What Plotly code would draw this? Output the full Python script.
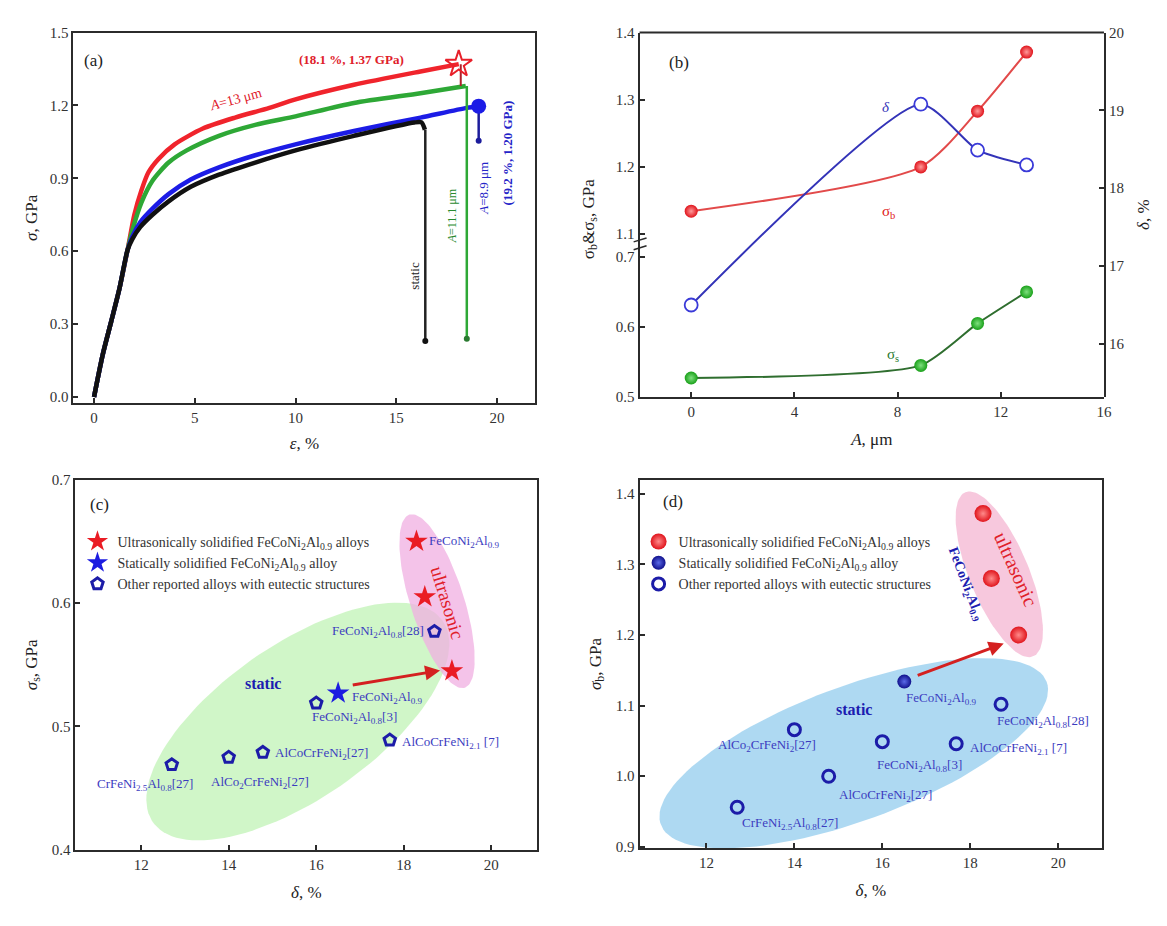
import numpy as np
import plotly.graph_objects as go

FONT = "Liberation Serif"
W, H = 1167, 926

# ---------------- Panel (a): stress-strain curves ----------------
eps_elastic = [0.0, 0.43, 0.84, 1.25, 1.66]
sig_elastic = [0.0, 0.174, 0.307, 0.442, 0.604]
eps_red = [2.0, 2.35, 2.7, 3.2, 4.0, 5.4, 7.0, 8.7, 10.0, 12.9, 16.2, 18.1]
sig_red = [0.75, 0.85, 0.925, 0.98, 1.04, 1.105, 1.15, 1.19, 1.225, 1.285, 1.34, 1.37]
eps_green = [1.95, 2.35, 2.9, 3.7, 4.6, 6.2, 8.0, 10.0, 12.9, 16.2, 18.45]
sig_green = [0.70, 0.80, 0.89, 0.965, 1.015, 1.075, 1.12, 1.155, 1.21, 1.25, 1.28]
eps_blue = [1.9, 2.3, 2.9, 3.7, 4.8, 6.2, 8.0, 10.0, 12.9, 16.2, 18.5, 19.09]
sig_blue = [0.66, 0.72, 0.775, 0.835, 0.895, 0.945, 0.995, 1.04, 1.095, 1.15, 1.19, 1.197]
eps_static = [1.9, 2.3, 2.9, 3.7, 4.8, 6.2, 8.0, 10.0, 12.9, 15.9, 16.25, 16.42]
sig_static = [0.65, 0.70, 0.75, 0.805, 0.865, 0.915, 0.965, 1.015, 1.075, 1.13, 1.13, 1.10]
drop_red_eps, drop_red_sig = [18.2, 18.2], [1.37, 1.28]
drop_green_eps, drop_green_sig = [18.5, 18.5], [1.28, 0.24]
drop_blue_eps, drop_blue_sig = [19.09, 19.09], [1.197, 1.055]
drop_static_eps, drop_static_sig = [16.44, 16.44], [1.10, 0.23]

# ---------------- Panel (b): properties vs spacing ----------------
A_um = [0, 8.9, 11.1, 13]
sigma_b = [1.134, 1.20, 1.283, 1.371]
sigma_s = [0.527, 0.545, 0.605, 0.65]
delta = [16.5, 19.08, 18.49, 18.3]

# ---------------- Panels (c),(d): comparison ----------------
delta_us = [18.29, 18.48, 19.1]
sigma_s_us = [0.65, 0.605, 0.545]
sigma_b_us = [1.372, 1.28, 1.20]
delta_st = [16.5]
sigma_s_st = [0.527]
sigma_b_st = [1.134]
other_names = ["FeCoNi<sub>2</sub>Al<sub>0.8</sub>[28]", "FeCoNi<sub>2</sub>Al<sub>0.8</sub>[3]",
               "AlCoCrFeNi<sub>2.1</sub> [7]", "AlCoCrFeNi<sub>2</sub>[27]",
               "AlCo<sub>2</sub>CrFeNi<sub>2</sub>[27]", "CrFeNi<sub>2.5</sub>Al<sub>0.8</sub>[27]"]
other_delta = [18.7, 16.0, 17.68, 14.78, 14.0, 12.7]
other_sigma_s = [0.577, 0.519, 0.489, 0.479, 0.475, 0.469]
other_sigma_b = [1.102, 1.049, 1.046, 1.0, 1.066, 0.956]
alloy_name = "FeCoNi<sub>2</sub>Al<sub>0.9</sub>"

# label placement styles (anchor, xshift, yshift) in pixels
lab_c = [("right", -8, 0), ("center", 38, -14), ("left", 10, -2), ("left", 10, -1), ("center", 31, -25), ("center", -27, -20)]
lab_d = [("left", -6, -17), ("center", 37, -24), ("left", 12, -5), ("left", 8, -19), ("center", -27, -16), ("left", 3, -16)]

# ---------------- layout geometry ----------------
def px(x0, x1):
    return [x0 / W, x1 / W]

def py(ytop, ybot):
    return [1 - ybot / H, 1 - ytop / H]

dom_a = (px(74, 539), py(25, 402))
dom_b = (px(644, 1111.6), py(25, 395.7))
y_break = 1 - 243 / H
dom_c = (px(76, 541), py(480, 856.7))
dom_d = (px(644, 1109.8), py(480, 855))

AXC = "#2b2b2b"
LBL = "#3b3bbf"
LFS = 13


def ax(**kw):
    d = dict(showline=True, linecolor=AXC, linewidth=2, ticks="inside", ticklen=5, tickwidth=2,
             tickcolor=AXC, showgrid=False, zeroline=False,
             tickfont=dict(family=FONT, size=15, color="#333"),
             title_font=dict(family=FONT, size=17, color="#222"))
    d.update(kw)
    return d


fig = go.Figure()

# ---- (a) traces
curve_sets = [
    (eps_red, sig_red, "#f0242c"),
    (eps_green, sig_green, "#2ea836"),
    (eps_blue, sig_blue, "#1c1ce6"),
    (eps_static, sig_static, "#111111"),
]
for ex, sy, col in curve_sets:
    fig.add_trace(go.Scatter(x=eps_elastic + ex, y=sig_elastic + sy, mode="lines",
                             line=dict(color=col, width=4.5, shape="spline", smoothing=0.7),
                             xaxis="x", yaxis="y", showlegend=False, hoverinfo="skip"))
for ex, sy, col, w in [(drop_red_eps, drop_red_sig, "#b0202a", 2),
                       (drop_green_eps, drop_green_sig, "#2ea836", 2.5),
                       (drop_blue_eps, drop_blue_sig, "#1c1c9c", 2.5),
                       (drop_static_eps, drop_static_sig, "#222222", 2.5)]:
    fig.add_trace(go.Scatter(x=ex, y=sy, mode="lines", line=dict(color=col, width=w),
                             xaxis="x", yaxis="y", showlegend=False, hoverinfo="skip"))
fig.add_trace(go.Scatter(x=[eps_red[-1]], y=[sig_red[-1]], mode="markers",
                         marker=dict(symbol="star-open", size=20, color="#e8202a", line=dict(width=2)),
                         xaxis="x", yaxis="y", showlegend=False, hoverinfo="skip"))
fig.add_trace(go.Scatter(x=[eps_blue[-1]], y=[sig_blue[-1]], mode="markers",
                         marker=dict(symbol="circle", size=15, color="#1c1ce6"),
                         xaxis="x", yaxis="y", showlegend=False, hoverinfo="skip"))
fig.add_trace(go.Scatter(x=[drop_green_eps[1], drop_static_eps[1], drop_blue_eps[1]],
                         y=[drop_green_sig[1], drop_static_sig[1], drop_blue_sig[1]], mode="markers",
                         marker=dict(size=6, color=["#2a7a30", "#111", "#1c1c9c"]),
                         xaxis="x", yaxis="y", showlegend=False, hoverinfo="skip"))

# ---- (b) traces
fig.add_trace(go.Scatter(x=A_um, y=sigma_s, mode="lines+markers",
                         line=dict(color="#2f6e2f", width=2, shape="spline", smoothing=0.6),
                         marker=dict(size=13, color="#19a019", gradient=dict(type="radial", color="#7fe07f")),
                         xaxis="x2", yaxis="y2", showlegend=False, hoverinfo="skip"))
fig.add_trace(go.Scatter(x=A_um, y=sigma_b, mode="lines+markers",
                         line=dict(color="#e24a4a", width=2, shape="spline", smoothing=0.7),
                         marker=dict(size=13, color="#e0141c", gradient=dict(type="radial", color="#ff9a9a")),
                         xaxis="x2", yaxis="y3", showlegend=False, hoverinfo="skip"))
fig.add_trace(go.Scatter(x=A_um, y=delta, mode="lines+markers",
                         line=dict(color="#3434b8", width=2, shape="spline", smoothing=0.6),
                         marker=dict(size=13, color="white", line=dict(color="#3a3ad8", width=1.8)),
                         xaxis="x2", yaxis="y4", showlegend=False, hoverinfo="skip"))


# ---- ellipses (decorative regions), defined in pixel extents
def ellipse(cx, cy, a, b, ang, sx, sy, n=120):
    t = np.linspace(0, 2 * np.pi, n)
    th = np.deg2rad(ang)
    dx = a * np.cos(t) * np.cos(th) - b * np.sin(t) * np.sin(th)
    dy = a * np.cos(t) * np.sin(th) + b * np.sin(t) * np.cos(th)
    return cx + dx / sx, cy + dy / sy


for (cx, cy, a, b, ang, sx, sy, col, xa, ya) in [
    (15.58, 0.504, 178, 78, 35, 44.06, 1250, "rgba(200,245,190,0.85)", "x3", "y5"),
    (18.76, 0.6016, 92, 27, 107.6, 44.06, 1250, "rgba(240,175,225,0.75)", "x3", "y5"),
    (15.35, 1.0325, 207, 68, 20.5, 44.2, 716, "rgba(160,210,240,0.85)", "x4", "y6"),
    (18.66, 1.286, 90, 30, 112.2, 44.2, 716, "rgba(246,190,215,0.85)", "x4", "y6"),
]:
    ex_, ey_ = ellipse(cx, cy, a, b, ang, sx, sy)
    fig.add_trace(go.Scatter(x=ex_, y=ey_, mode="lines", fill="toself", fillcolor=col,
                             line=dict(width=0), xaxis=xa, yaxis=ya, showlegend=False, hoverinfo="skip"))

# ---- (c) markers
fig.add_trace(go.Scatter(x=delta_us, y=sigma_s_us, mode="markers", name="Ultrasonically solidified " + alloy_name + " alloys",
                         marker=dict(symbol="star", size=17, color="#ea1c24"),
                         xaxis="x3", yaxis="y5", legend="legend", hoverinfo="skip"))
fig.add_trace(go.Scatter(x=delta_st, y=sigma_s_st, mode="markers", name="Statically solidified " + alloy_name + " alloy",
                         marker=dict(symbol="star", size=17, color="#1c1ce0"),
                         xaxis="x3", yaxis="y5", legend="legend", hoverinfo="skip"))
fig.add_trace(go.Scatter(x=other_delta, y=other_sigma_s, mode="markers", name="Other reported alloys with eutectic structures",
                         marker=dict(symbol="pentagon-open", size=12, color="#1c1ca8", line=dict(width=3)),
                         xaxis="x3", yaxis="y5", legend="legend", hoverinfo="skip"))

# ---- (d) markers
fig.add_trace(go.Scatter(x=delta_us, y=sigma_b_us, mode="markers", name="Ultrasonically solidified " + alloy_name + " alloys",
                         marker=dict(symbol="circle", size=17, color="#e0141c", gradient=dict(type="radial", color="#ff8a8a")),
                         xaxis="x4", yaxis="y6", legend="legend2", hoverinfo="skip"))
fig.add_trace(go.Scatter(x=delta_st, y=sigma_b_st, mode="markers", name="Statically solidified " + alloy_name + " alloy",
                         marker=dict(symbol="circle", size=14, color="#10108c", gradient=dict(type="radial", color="#5a6ae8")),
                         xaxis="x4", yaxis="y6", legend="legend2", hoverinfo="skip"))
fig.add_trace(go.Scatter(x=other_delta, y=other_sigma_b, mode="markers", name="Other reported alloys with eutectic structures",
                         marker=dict(symbol="circle-open", size=12, color="#1c1ca8", line=dict(width=3)),
                         xaxis="x4", yaxis="y6", legend="legend2", hoverinfo="skip"))

# ---------------- annotations ----------------
ann = []


def T(text, x, y, xref, yref, size=12, color="#222", angle=0, xanchor="center", yanchor="middle",
      xshift=0, yshift=0, bold=False):
    if bold:
        text = "<b>" + text + "</b>"
    ann.append(dict(text=text, x=x, y=y, xref=xref, yref=yref, showarrow=False, textangle=angle,
                    xanchor=xanchor, yanchor=yanchor, xshift=xshift, yshift=yshift,
                    font=dict(family=FONT, size=size, color=color)))


# (a)
T("(a)", -0.62, 1.387, "x", "y", size=17, xanchor="left")
T("(18.1 %, 1.37 GPa)", 12.79, 1.391, "x", "y", size=13, color="#e0202a", bold=True)
T("<i>A</i>=13 μm", 7.0, 1.225, "x", "y", size=14, color="#e0202a", angle=-15)
T("(19.2 %, 1.20 GPa)", 20.5, 1.003, "x", "y", size=13, color="#2424c8", angle=-90, bold=True)
T("<i>A</i>=8.9 μm", 19.35, 0.861, "x", "y", size=13, color="#2424c8", angle=-90)
T("<i>A</i>=11.1 μm", 17.77, 0.744, "x", "y", size=12, color="#2a8a30", angle=-90)
T("static", 15.9, 0.501, "x", "y", size=13, color="#222", angle=-90)
# (b)
T("(b)", -0.92, 19.62, "x2", "y4", size=17, xanchor="left")
T("<i>δ</i>", 7.55, 19.05, "x2", "y4", size=15, color="#3434b8")
T("σ<sub>b</sub>", 7.64, 17.70, "x2", "y4", size=15, color="#e02020")
T("σ<sub>s</sub>", 7.84, 15.86, "x2", "y4", size=15, color="#2a7a30")
T("σ<sub>b</sub>&σ<sub>s</sub>, GPa", 594 / W, 1 - 215 / H, "paper", "paper", size=17, angle=-90)
# (c)
T("(c)", 11.05, 0.68, "x3", "y5", size=17)
T("static", 14.79, 0.5352, "x3", "y5", size=16, color="#1c1cb0", bold=True)
T("ultrasonic", 19.01, 0.60, "x3", "y5", size=19, color="#e0202a", angle=73)
T(alloy_name, delta_us[0], sigma_s_us[0], "x3", "y5", size=LFS, color=LBL, xanchor="left", xshift=11)
T(alloy_name, delta_st[0], sigma_s_st[0], "x3", "y5", size=LFS, color=LBL, xanchor="left", xshift=12, yshift=-4)
for nm, xx, yy, (anc, xs, ys) in zip(other_names, other_delta, other_sigma_s, lab_c):
    T(nm, xx, yy, "x3", "y5", size=LFS, color=LBL, xanchor=anc, xshift=xs, yshift=ys)
# (d)
T("(d)", 11.24, 1.389, "x4", "y6", size=17)
T("static", 15.35, 1.095, "x4", "y6", size=16, color="#1c1cb0", bold=True)
T("ultrasonic", 19.04, 1.294, "x4", "y6", size=20, color="#e0202a", angle=66)
T(alloy_name, 17.9, 1.272, "x4", "y6", size=14, color="#1c1cb0", angle=69, bold=True)
T(alloy_name, delta_st[0], sigma_b_st[0], "x4", "y6", size=LFS, color=LBL, xanchor="left", xshift=0, yshift=-17)
for nm, xx, yy, (anc, xs, ys) in zip(other_names, other_delta, other_sigma_b, lab_d):
    T(nm, xx, yy, "x4", "y6", size=LFS, color=LBL, xanchor=anc, xshift=xs, yshift=ys)

# arrows
ann.append(dict(x=18.83, y=0.5454, ax=16.8, ay=0.5334, xref="x3", yref="y5", axref="x3", ayref="y5",
                showarrow=True, arrowhead=2, arrowsize=1, arrowwidth=3, arrowcolor="#d42020", text=""))
ann.append(dict(x=18.76, y=1.188, ax=16.77, ay=1.142, xref="x4", yref="y6", axref="x4", ayref="y6",
                showarrow=True, arrowhead=2, arrowsize=1, arrowwidth=3, arrowcolor="#d42020", text=""))

# shapes: top frame of (b) and axis-break marks
shapes = [
    dict(type="line", xref="paper", yref="paper", x0=dom_b[0][0], x1=dom_b[0][1], y0=dom_b[1][1], y1=dom_b[1][1],
         line=dict(color=AXC, width=2)),
]
for yy in (236, 244):
    shapes.append(dict(type="line", xref="paper", yref="paper", x0=638 / W, x1=651 / W,
                       y0=1 - (yy + 2) / H, y1=1 - (yy - 2) / H, line=dict(color=AXC, width=1.5)))

leg_font = dict(family=FONT, size=14, color="#333")
fig.update_layout(
    width=W, height=H, margin=dict(l=0, r=0, t=0, b=0),
    paper_bgcolor="white", plot_bgcolor="rgba(0,0,0,0)",
    font=dict(family=FONT, size=13, color="#222"),
    annotations=ann, shapes=shapes,
    xaxis=ax(domain=dom_a[0], anchor="y", range=[-1.02, 21.9], tickvals=[0, 5, 10, 15, 20], mirror=True,
             title=dict(text="<i>ε</i>, %", standoff=12)),
    yaxis=ax(domain=dom_a[1], anchor="x", range=[-0.025, 1.5], tickvals=[0, 0.3, 0.6, 0.9, 1.2, 1.5],
             tickformat=".1f", mirror=True, title=dict(text="<i>σ</i>, GPa", standoff=8)),
    xaxis2=ax(domain=dom_b[0], anchor="y2", range=[-2, 16], tickvals=[0, 4, 8, 12, 16],
              title=dict(text="<i>A</i>, μm", standoff=14)),
    yaxis2=ax(domain=[dom_b[1][0], y_break], anchor="x2", range=[0.5, 0.7145], tickvals=[0.5, 0.6, 0.7],
              tickformat=".1f"),
    yaxis3=ax(domain=[y_break, dom_b[1][1]], anchor="x2", range=[1.081, 1.4], tickvals=[1.1, 1.2, 1.3, 1.4],
              tickformat=".1f"),
    yaxis4=ax(domain=dom_b[1], anchor="x2", side="right", range=[15.32, 20], tickvals=[16, 17, 18, 19, 20],
              title=dict(text="<i>δ</i>, %", standoff=14)),
    xaxis3=ax(domain=dom_c[0], anchor="y5", range=[10.5, 21.05], tickvals=[12, 14, 16, 18, 20], mirror=True,
              title=dict(text="<i>δ</i>, %", standoff=14)),
    yaxis5=ax(domain=dom_c[1], anchor="x3", range=[0.4, 0.7], tickvals=[0.4, 0.5, 0.6, 0.7], tickformat=".1f",
              mirror=True, title=dict(text="<i>σ</i><sub>s</sub>, GPa", standoff=10)),
    xaxis4=ax(domain=dom_d[0], anchor="y6", range=[10.48, 21.0], tickvals=[12, 14, 16, 18, 20], mirror=True,
              title=dict(text="<i>δ</i>, %", standoff=14)),
    yaxis6=ax(domain=dom_d[1], anchor="x4", range=[0.898, 1.42], tickvals=[0.9, 1.0, 1.1, 1.2, 1.3, 1.4],
              tickformat=".1f", mirror=True, title=dict(text="<i>σ</i><sub>b</sub>, GPa", standoff=10)),
    legend=dict(x=78 / W, y=1 - 527 / H, xanchor="left", yanchor="top", bgcolor="rgba(0,0,0,0)",
                font=leg_font, tracegroupgap=0, itemwidth=30),
    legend2=dict(x=643 / W, y=1 - 527 / H, xanchor="left", yanchor="top", bgcolor="rgba(0,0,0,0)",
                 font=leg_font, tracegroupgap=0, itemwidth=30),
)

fig.write_html("out.html", config={"displayModeBar": False},
               post_script="document.body.style.margin='0';document.body.style.overflow='hidden';")
